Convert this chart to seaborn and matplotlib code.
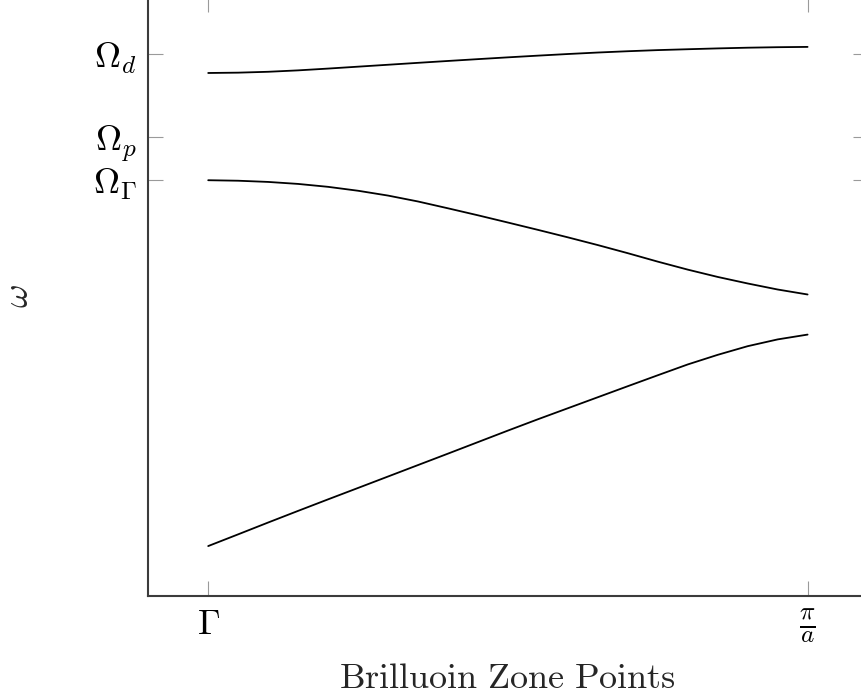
import numpy as np
import pandas as pd
import matplotlib
matplotlib.use("Agg")
import matplotlib.pyplot as plt
import seaborn as sns

# Wave-vector samples from the zone centre (0) to the zone edge (1)
k = [0.00, 0.05, 0.10, 0.15, 0.20, 0.25, 0.30, 0.35, 0.40, 0.45, 0.50,
     0.55, 0.60, 0.65, 0.70, 0.75, 0.80, 0.85, 0.90, 0.95, 1.00]

# Frequencies of the three bands, in units of Omega_Gamma
upper_band = [1.2578, 1.2586, 1.2607, 1.2641, 1.2684, 1.2730, 1.2776,
              1.2822, 1.2867, 1.2911, 1.2954, 1.2995, 1.3034, 1.3070,
              1.3101, 1.3128, 1.3149, 1.3169, 1.3186, 1.3198, 1.3205]
middle_band = [1.0000, 0.9988, 0.9959, 0.9911, 0.9841, 0.9747, 0.9631,
               0.9489, 0.9325, 0.9157, 0.8983, 0.8807, 0.8627, 0.8441,
               0.8246, 0.8043, 0.7851, 0.7675, 0.7518, 0.7373, 0.7253]
lower_band = [0.1205, 0.1487, 0.1771, 0.2051, 0.2328, 0.2602, 0.2877,
              0.3152, 0.3427, 0.3704, 0.3981, 0.4253, 0.4518, 0.4783,
              0.5048, 0.5311, 0.5571, 0.5802, 0.6010, 0.6173, 0.6289]

# Characteristic frequencies marked on the vertical axis
tick_omega = [1.3036, 1.1036, 1.0]
tick_omega_labels = [r"$\Omega_d$", r"$\Omega_p$", r"$\Omega_\Gamma$"]

# Symmetry points on the horizontal axis
tick_k = [0.0, 1.0]
tick_k_labels = [r"$\Gamma$", r"$\frac{\pi}{a}$"]

bands = pd.DataFrame({
    "k": k * 3,
    "omega": upper_band + middle_band + lower_band,
    "band": ["upper"] * len(k) + ["middle"] * len(k) + ["lower"] * len(k),
})

sns.set_style("white")
plt.rcParams["mathtext.fontset"] = "cm"
plt.rcParams["font.family"] = ["DejaVu Sans"]

fig = plt.figure(figsize=(8.62, 7.0), dpi=100)
ax = fig.add_axes([0.172, 0.1486, 0.8344, 0.8557])

sns.lineplot(data=bands, x="k", y="omega", units="band", estimator=None,
             color="black", linewidth=1.3, ax=ax, legend=False)

ax.margins(0.1)

ax.set_xticks(tick_k)
ax.set_xticklabels(tick_k_labels)
ax.set_yticks(tick_omega)
ax.set_yticklabels(tick_omega_labels)

# Inward ticks mirrored on all four sides
ax.tick_params(axis="both", direction="in", length=10.8, width=0.8,
               color="#9a9a9a", bottom=True, left=True, top=True,
               right=True, labelsize=26, labelcolor="black")
ax.tick_params(axis="x", pad=8)
ax.tick_params(axis="y", pad=8)

for spine in ax.spines.values():
    spine.set_visible(True)
    spine.set_color("#3c3c3c")
    spine.set_linewidth(1.5)

ax.set_xlabel(r"$\mathrm{Brilluoin\ Zone\ Points}$", fontsize=26)
ax.xaxis.set_label_coords(0.5, -0.108)
ax.set_ylabel(r"$\omega$", fontsize=26, rotation=90, va="center")
ax.yaxis.set_label_coords(-0.181, 0.5)

fig.savefig("out.png", dpi=100)
